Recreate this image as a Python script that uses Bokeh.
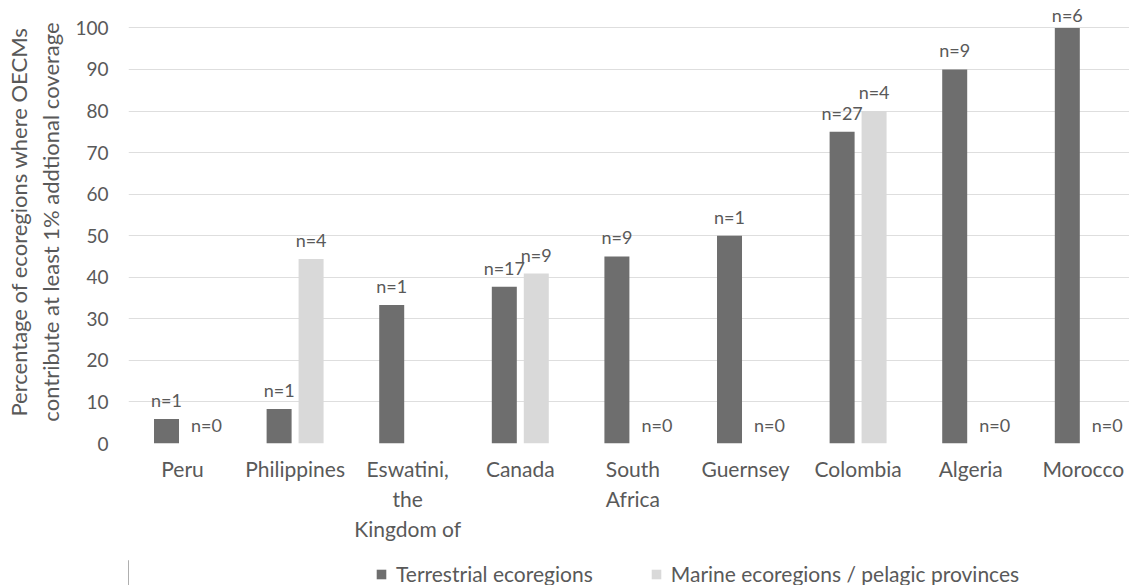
from bokeh.plotting import figure
from bokeh.layouts import column
from bokeh.models import ColumnDataSource, Range1d, FixedTicker, Legend, LegendItem
from bokeh.core.properties import value
from bokeh.embed import file_html
from bokeh.resources import INLINE

categories = ["Peru", "Philippines", "Eswatini,\nthe\nKingdom of", "Canada", "South\nAfrica",
              "Guernsey", "Colombia", "Algeria", "Morocco"]
terrestrial = [5.9, 8.3, 33.3, 37.7, 45.0, 50.0, 75.0, 90.0, 100.0]
marine = [0.0, 44.4, 0.0, 40.9, 0.0, 0.0, 80.0, 0.0, 0.0]
terrestrial_n = ["n=1", "n=1", "n=1", "n=17", "n=9", "n=1", "n=27", "n=9", "n=6"]
marine_n = ["n=0", "n=4", "", "n=9", "n=0", "n=0", "n=4", "n=0", "n=0"]
series_names = ["Terrestrial ecoregions", "Marine ecoregions / pelagic provinces"]

FONT = "Lato"
TXT = "#595959"
DARK = "#6e6e6e"
LIGHT = "#d9d9d9"

left = 128
frame_w = 1001
frame_h = 443
px_per_unit = 112.6
py_per_unit = 4.156
x_start = -54 / px_per_unit
x_end = x_start + frame_w / px_per_unit
y_end = frame_h / py_per_unit

idx = list(range(len(categories)))
off = 0.142
bw = 0.222


def label_offsets(vals):
    # keep labels inside the plot area near the top, as the source chart does
    return [max(-19, -((y_end - v) * py_per_unit) + 14.5) for v in vals]


src_t = ColumnDataSource(dict(x=[i - off for i in idx], top=terrestrial, lab=terrestrial_n,
                              yo=label_offsets(terrestrial)))
src_m = ColumnDataSource(dict(x=[i + off for i in idx], top=marine, lab=marine_n,
                              yo=label_offsets(marine),
                              xo=[8 if v == 0 else 0 for v in marine]))

p = figure(frame_width=frame_w, frame_height=frame_h, output_backend="svg", toolbar_location=None,
           x_range=Range1d(x_start, x_end), y_range=Range1d(0, y_end),
           min_border_top=0, min_border_left=left, min_border_right=0, min_border_bottom=117)
p.outline_line_color = None
p.background_fill_color = "white"

p.vbar(x="x", top="top", width=bw, source=src_t, fill_color=DARK, line_color=None)
p.vbar(x="x", top="top", width=bw, source=src_m, fill_color=LIGHT, line_color=None)

p.text(x="x", y="top", text="lab", source=src_t, text_align="center", text_baseline="alphabetic",
       y_offset="yo", text_font=value(FONT), text_font_size="18px", text_color=TXT)
p.text(x="x", y="top", text="lab", source=src_m, text_align="center", text_baseline="alphabetic",
       y_offset="yo", x_offset="xo", text_font=value(FONT), text_font_size="18px", text_color=TXT)

p.xgrid.grid_line_color = None
p.ygrid.grid_line_color = "#dedede"
p.ygrid.grid_line_width = 1

p.yaxis.ticker = FixedTicker(ticks=list(range(0, 101, 10)))
p.yaxis.axis_line_color = None
p.yaxis.major_tick_line_color = None
p.yaxis.minor_tick_line_color = None
p.yaxis.major_label_standoff = 14
p.yaxis.major_label_text_font = FONT
p.yaxis.major_label_text_font_size = "19px"
p.yaxis.major_label_text_color = TXT
p.yaxis.axis_label = "Percentage of ecoregions where OECMs\ncontribute at least 1% addtional coverage"
p.yaxis.axis_label_text_font = FONT
p.yaxis.axis_label_text_font_size = "22px"
p.yaxis.axis_label_text_font_style = "normal"
p.yaxis.axis_label_text_color = TXT
p.yaxis.axis_label_standoff = 8

p.xaxis.ticker = FixedTicker(ticks=idx)
p.xaxis.major_label_overrides = {i: c for i, c in zip(idx, categories)}
p.xaxis.axis_line_color = None
p.xaxis.major_tick_line_color = None
p.xaxis.minor_tick_line_color = None
p.xaxis.major_label_standoff = 6
p.xaxis.major_label_text_font = FONT
p.xaxis.major_label_text_font_size = "21px"
p.xaxis.major_label_text_color = TXT

# legend strip underneath the chart (its own view window shows no bars)
q = figure(width=left + frame_w, height=26, output_backend="svg", toolbar_location=None,
           x_range=Range1d(100, 101), y_range=Range1d(0, 1),
           x_axis_location=None, y_axis_location=None,
           min_border_top=0, min_border_left=0, min_border_right=0, min_border_bottom=0)
q.outline_line_color = None
q.grid.visible = False
lt = q.vbar(x="x", top="top", width=bw, source=src_t, fill_color=DARK, line_color=None)
lm = q.vbar(x="x", top="top", width=bw, source=src_m, fill_color=LIGHT, line_color=None)
legend = Legend(items=[LegendItem(label=series_names[0], renderers=[lt]),
                       LegendItem(label=series_names[1], renderers=[lm])],
                orientation="horizontal", location=(247, 0), border_line_color=None,
                background_fill_alpha=0,
                label_text_font=FONT, label_text_font_size="21px", label_text_color=TXT,
                glyph_width=12, glyph_height=12, label_height=20, label_standoff=9, spacing=57,
                padding=0, margin=0)
q.add_layout(legend, "center")

layout = column(p, q, spacing=0)
open("out.html", "w").write(file_html(layout, INLINE))
